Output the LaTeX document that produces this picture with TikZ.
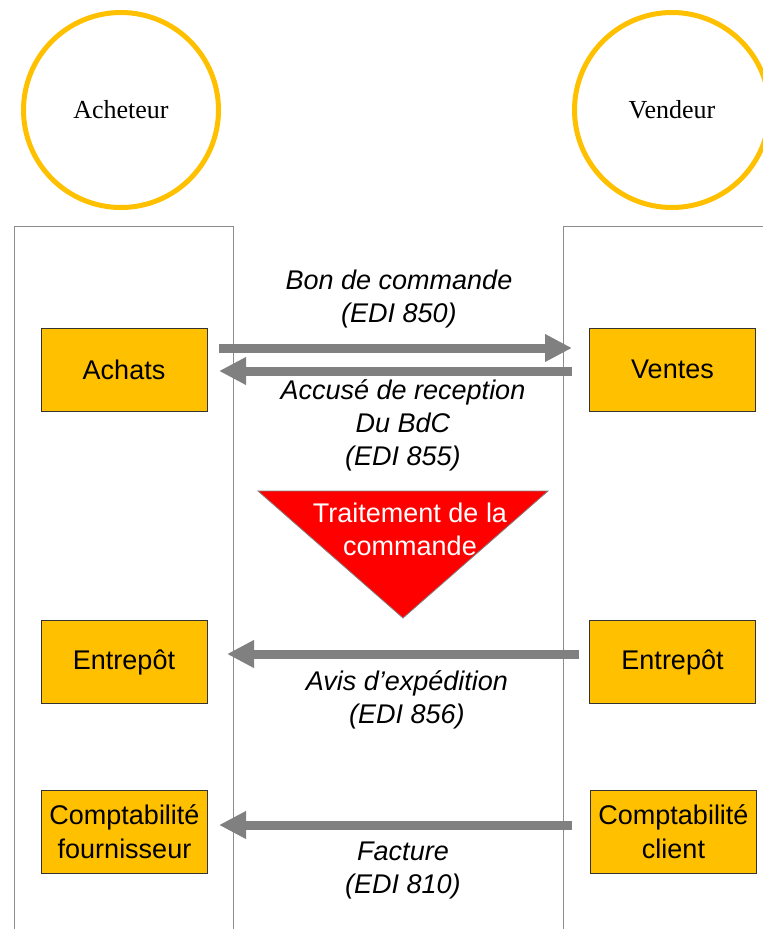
\documentclass[tikz,border=0pt]{standalone}
\usepackage{fontspec}
\setmainfont{Liberation Sans}
\newfontfamily\serifface{Liberation Serif}
\usetikzlibrary{arrows.meta}
\definecolor{gold}{HTML}{FFC000}
\definecolor{arrowgray}{HTML}{808080}
\definecolor{lanegray}{HTML}{8C8C8C}
\tikzset{
  role/.style={circle, draw=gold, line width=5pt, minimum size=195pt, inner sep=0pt,
    font=\serifface\fontsize{26}{30}\selectfont},
  dept/.style={rectangle, draw=black!80, line width=0.8pt, fill=gold, minimum width=166pt,
    minimum height=83pt, inner sep=0pt, align=center, font=\fontsize{27}{34}\selectfont},
  msg/.style={align=center, font=\itshape\fontsize{27}{33}\selectfont},
  bigarrow/.style={draw=arrowgray, line width=9pt,
    -{Triangle[length=27pt,width=26pt]}},
  lane/.style={draw=lanegray, line width=1pt}
}
\begin{document}
\begin{tikzpicture}[x=1pt,y=-1pt]
\useasboundingbox (0,0) rectangle (763,929);
\clip (0,0) rectangle (763,929);
% lanes
\draw[lane] (14,935) -- (14,226) -- (233,226) -- (233,935);
\draw[lane] (563,935) -- (563,226) -- (770,226);
% roles
\node[role] (buyer) at (121,110) {Acheteur};
\node[role] (seller) at (672,110) {Vendeur};
% departments
\node[dept] (achats) at (124,369.5) {Achats};
\node[dept] (ventes) at (672.5,369.5) {Ventes};
\node[dept] (entL) at (124,662) {Entrepôt};
\node[dept] (entR) at (672.5,662) {Entrepôt};
\node[dept] (compL) at (124.5,831.5) {Comptabilité\\fournisseur};
\node[dept] (compR) at (673.5,831.5) {Comptabilité\\client};
% arrow end points
\coordinate (a1s) at (219,348);
\coordinate (a1e) at (572,348);
\coordinate (a2s) at (572,371);
\coordinate (a2e) at (219,371);
\coordinate (a3s) at (579,654);
\coordinate (a3e) at (227,654);
\coordinate (a4s) at (572,825);
\coordinate (a4e) at (219,825);
\draw[bigarrow] (a1s) -- (a1e);
\draw[bigarrow] (a2s) -- (a2e);
\draw[bigarrow] (a3s) -- (a3e);
\draw[bigarrow] (a4s) -- (a4e);
% labels
\node[msg] (l1) at (399,299) {Bon de commande\\(EDI 850)};
\node[msg] (l2) at (403,425) {Accusé de reception\\Du BdC\\(EDI 855)};
\node[msg] (l3) at (407,700) {Avis d’expédition\\(EDI 856)};
\node[msg] (l4) at (403,870) {Facture\\(EDI 810)};
% processing triangle
\draw[fill=red, draw=arrowgray, line width=0.8pt] (258,491) -- (548,491) -- (403,618) -- cycle;
\node[align=center, text=white, font=\fontsize{27}{33}\selectfont] (proc) at (410,529) {Traitement de la\\commande};
\end{tikzpicture}
\end{document}
